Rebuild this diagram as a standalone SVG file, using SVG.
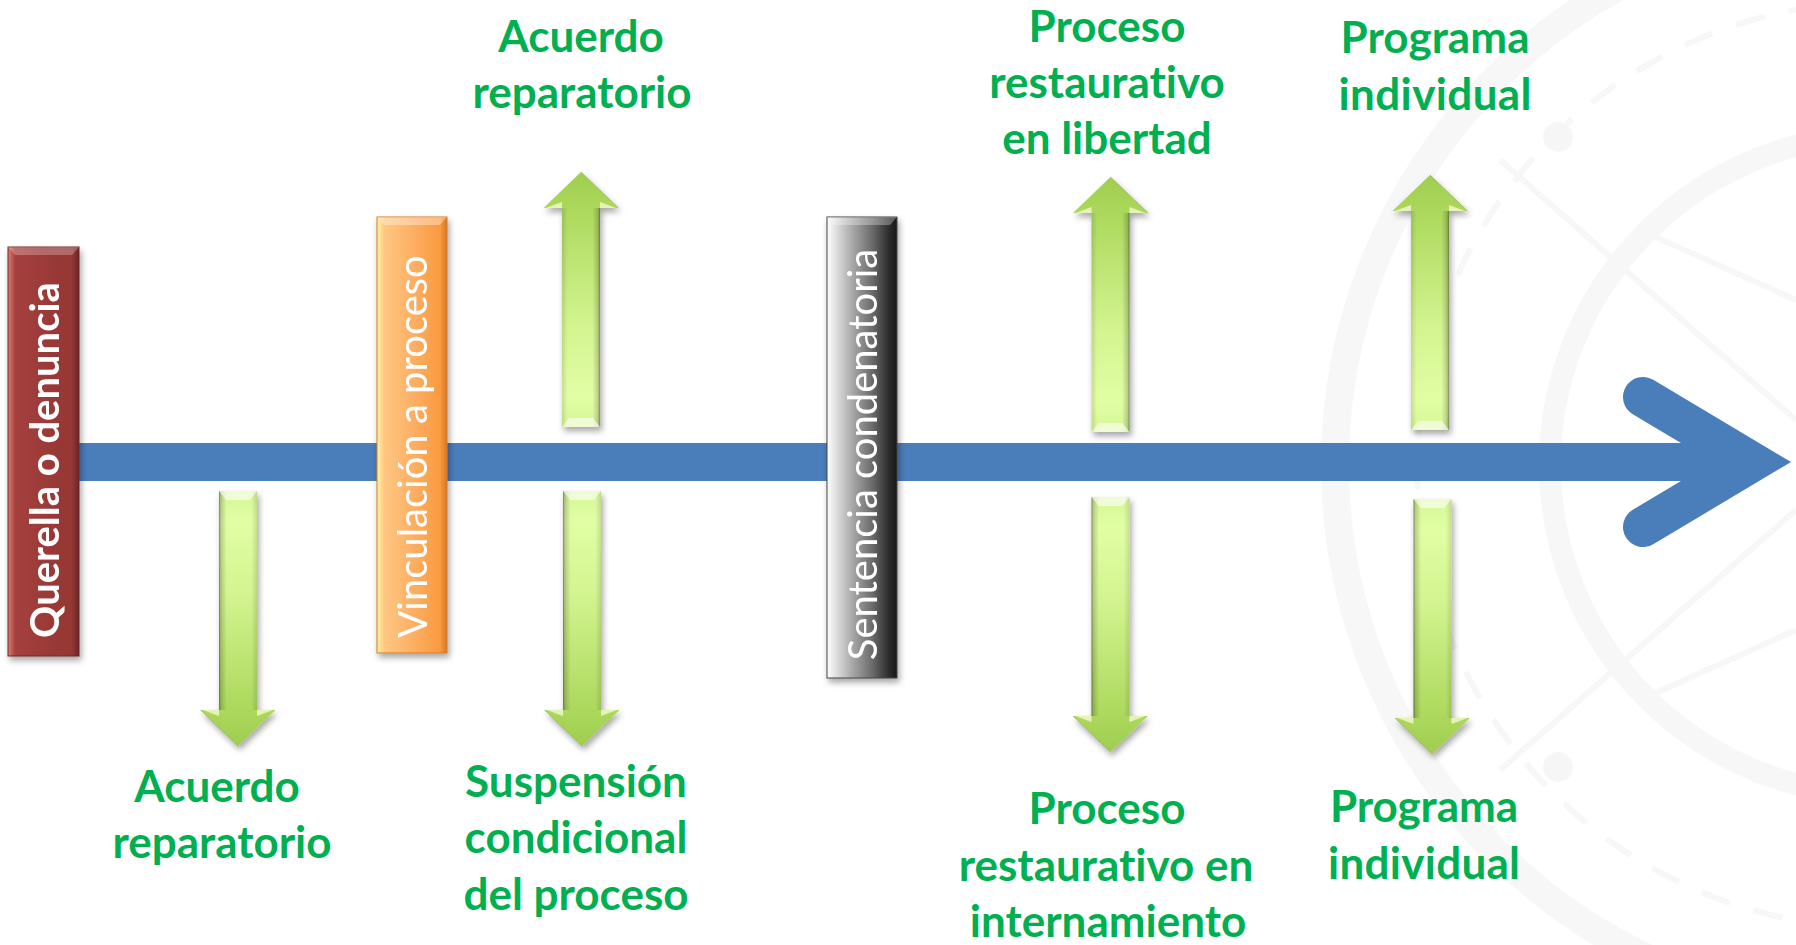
<svg xmlns="http://www.w3.org/2000/svg" xmlns:xlink="http://www.w3.org/1999/xlink" width="1796" height="945" viewBox="0 0 1796 945">
<defs>
<style>
.lbl{font-family:"Lato","Open Sans","Liberation Sans",sans-serif;font-weight:700;font-size:44px;fill:#00B050;text-anchor:middle;font-variant-ligatures:none}
.box{font-family:"Lato","Open Sans","Liberation Sans",sans-serif;font-size:40px;fill:#FFFFFF;text-anchor:middle;font-variant-ligatures:none}
.wm{fill:none;stroke:#F7F7F7}
</style>
<filter id="sh" x="-30%" y="-10%" width="160%" height="120%">
<feDropShadow dx="2" dy="4" stdDeviation="3" flood-color="#000" flood-opacity="0.35"/>
</filter>
<linearGradient id="gArrow" x1="0" y1="0" x2="0" y2="1">
<stop offset="0" stop-color="#9FCD4F"/>
<stop offset="0.15" stop-color="#ACD95D"/>
<stop offset="0.6" stop-color="#D3F490"/>
<stop offset="0.88" stop-color="#E1FEA4"/>
<stop offset="1" stop-color="#D6F697"/>
</linearGradient>
<linearGradient id="gSide" x1="0" y1="0" x2="1" y2="0">
<stop offset="0" stop-color="#000" stop-opacity="0.12"/>
<stop offset="0.15" stop-color="#000" stop-opacity="0"/>
<stop offset="0.8" stop-color="#000" stop-opacity="0"/>
<stop offset="0.95" stop-color="#000" stop-opacity="0.18"/>
<stop offset="1" stop-color="#000" stop-opacity="0.45"/>
</linearGradient>
<linearGradient id="gRed" x1="0" y1="0" x2="1" y2="0">
<stop offset="0" stop-color="#E07A75"/>
<stop offset="0.1" stop-color="#A5413E"/>
<stop offset="0.5" stop-color="#9C3A38"/>
<stop offset="0.9" stop-color="#953735"/>
<stop offset="1" stop-color="#6A2524"/>
</linearGradient>
<linearGradient id="gOrange" x1="0" y1="0" x2="1" y2="0">
<stop offset="0" stop-color="#FFF3A6"/>
<stop offset="0.1" stop-color="#FFC782"/>
<stop offset="0.5" stop-color="#FDB065"/>
<stop offset="0.9" stop-color="#F99A3E"/>
<stop offset="1" stop-color="#D67824"/>
</linearGradient>
<linearGradient id="gGray" x1="0" y1="0" x2="1" y2="0">
<stop offset="0" stop-color="#FFFFFF"/>
<stop offset="0.1" stop-color="#E6E6E6"/>
<stop offset="0.35" stop-color="#ABABAB"/>
<stop offset="0.65" stop-color="#6A6A6A"/>
<stop offset="0.88" stop-color="#2E2E2E"/>
<stop offset="1" stop-color="#161616"/>
</linearGradient>
<g id="arrow">
<path d="M0,0 L37.5,36 L19,36 L19,255 L-19,255 L-19,36 L-37.5,36 Z" fill="url(#gArrow)"/>
<rect x="-19" y="36" width="38" height="219" fill="url(#gSide)"/>
<path d="M-19,255 L19,255 L12,246 L-12,246 Z" fill="#FFFFFF" opacity="0.6"/>
<path d="M-35,36 L-19,36 L-19,30 Z M35,36 L19,36 L19,30 Z" fill="#FFFFE0" opacity="0.7"/>
<path d="M0,0 L37.5,36" stroke="#7FA23A" stroke-width="1" opacity="0.5" fill="none"/>
</g>
</defs>
<rect width="1796" height="945" fill="#FFFFFF"/>
<g id="watermark">
<circle class="wm" cx="1880" cy="465" r="545" stroke-width="28"/>
<circle class="wm" cx="1880" cy="465" r="463" stroke-width="6" stroke-dasharray="30 25"/>
<circle class="wm" cx="1880" cy="465" r="330" stroke-width="22"/>
<circle cx="1558" cy="137" r="15" fill="#F6F6F6"/>
<circle cx="1558" cy="767" r="15" fill="#F6F6F6"/>
<path class="wm" d="M1500,160 L1796,420 M1500,770 L1796,510 M1640,230 L1796,300 M1640,700 L1796,630" stroke-width="6"/>
</g>
<g id="connectors">
<rect x="79" y="443" width="1642" height="38" fill="#4A7EBB"/>
<polyline points="1643,397 1752,462 1643,527" fill="none" stroke="#4A7EBB" stroke-width="40" stroke-linecap="round" stroke-linejoin="miter" stroke-miterlimit="6"/>
</g>
<g id="querella" filter="url(#sh)">
<rect x="8" y="247" width="71" height="409" fill="url(#gRed)" stroke="#6E2826" stroke-width="1"/>
<path d="M8,247 L79,247 L72,255 L15,255 Z" fill="#FFFFFF" opacity="0.25"/>
<text class="box" font-weight="700" transform="translate(59,460) rotate(-90)">Querella o denuncia</text>
</g>
<g id="vinculacion" filter="url(#sh)">
<rect x="377" y="217" width="70" height="436" fill="url(#gOrange)" stroke="#D67824" stroke-width="1"/>
<path d="M377,217 L447,217 L440,225 L384,225 Z" fill="#FFFFFF" opacity="0.35"/>
<text class="box" transform="translate(427,446.5) rotate(-90)">Vinculación a proceso</text>
</g>
<g id="sentencia" filter="url(#sh)">
<rect x="827" y="217" width="70" height="461" fill="url(#gGray)" stroke="#444" stroke-width="1"/>
<path d="M827,217 L897,217 L890,225 L834,225 Z" fill="#FFFFFF" opacity="0.3"/>
<text class="box" transform="translate(877,454.5) rotate(-90)">Sentencia condenatoria</text>
</g>
<g id="up-acuerdo" filter="url(#sh)"><use xlink:href="#arrow" transform="translate(581,172)"/></g>
<g id="up-libertad" filter="url(#sh)"><use xlink:href="#arrow" transform="translate(1110.5,177)"/></g>
<g id="up-programa" filter="url(#sh)"><use xlink:href="#arrow" transform="translate(1430,175)"/></g>
<g id="down-acuerdo" filter="url(#sh)"><use xlink:href="#arrow" transform="translate(238,746) rotate(180)"/></g>
<g id="down-suspension" filter="url(#sh)"><use xlink:href="#arrow" transform="translate(582,746) rotate(180)"/></g>
<g id="down-internamiento" filter="url(#sh)"><use xlink:href="#arrow" transform="translate(1110.5,752) rotate(180)"/></g>
<g id="down-programa" filter="url(#sh)"><use xlink:href="#arrow" transform="translate(1432.5,754) rotate(180)"/></g>
<g id="label-acuerdo-top">
<text class="lbl" x="581" y="52">Acuerdo</text>
<text class="lbl" x="582" y="108">reparatorio</text>
</g>
<g id="label-libertad">
<text class="lbl" x="1107" y="42">Proceso</text>
<text class="lbl" x="1107" y="98">restaurativo</text>
<text class="lbl" x="1107" y="154">en libertad</text>
</g>
<g id="label-programa-top">
<text class="lbl" x="1435" y="53" textLength="189" lengthAdjust="spacing">Programa</text>
<text class="lbl" x="1435" y="110" textLength="193" lengthAdjust="spacing">individual</text>
</g>
<g id="label-acuerdo-bottom">
<text class="lbl" x="217" y="802">Acuerdo</text>
<text class="lbl" x="222" y="858">reparatorio</text>
</g>
<g id="label-suspension">
<text class="lbl" x="576" y="797">Suspensión</text>
<text class="lbl" x="576" y="853">condicional</text>
<text class="lbl" x="576" y="910">del proceso</text>
</g>
<g id="label-internamiento">
<text class="lbl" x="1107" y="824">Proceso</text>
<text class="lbl" x="1106" y="881">restaurativo en</text>
<text class="lbl" x="1108" y="937">internamiento</text>
</g>
<g id="label-programa-bottom">
<text class="lbl" x="1424" y="822" textLength="188" lengthAdjust="spacing">Programa</text>
<text class="lbl" x="1424" y="879" textLength="192" lengthAdjust="spacing">individual</text>
</g>
</svg>
